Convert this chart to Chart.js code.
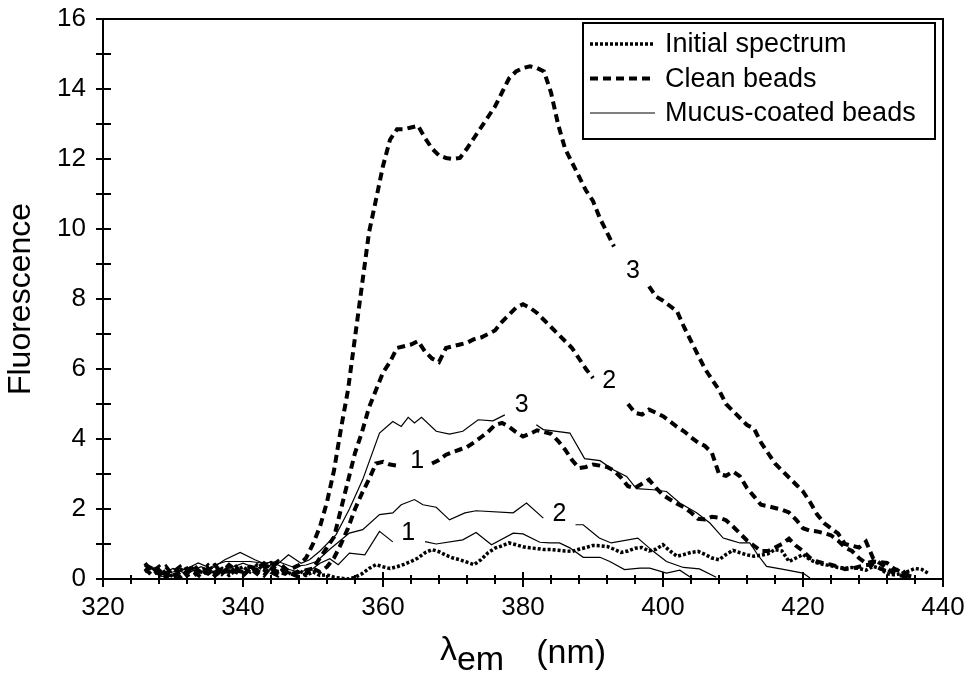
<!DOCTYPE html>
<html><head><meta charset="utf-8">
<script src="https://cdn.jsdelivr.net/npm/chart.js@4"></script>
<style>html,body{margin:0;padding:0;background:#fff}canvas{display:block}</style>
</head><body>
<canvas id="c" width="971" height="674"></canvas>
<script>
const FONT = "'Liberation Sans', Arial, Helvetica, sans-serif";

// shared wavelength grid (nm) for initial spectrum and clean-bead spectra
const wavelengths = [326,327,328,329,330,331,332,333,334,335,336,337,338,339,340,341,342,343,344,345,346,347,348,349,350,351,352,353,354,355,356,357,358,359,360,361,362,363,364,365,366,367,368,369,370,371,372,373,374,375,376,377,378,379,380,381,382,383,384,385,386,387,388,389,390,391,392,393,394,395,396,397,398,399,400,401,402,403,404,405,406,407,408,409,410,411,412,413,414,415,416,417,418,419,420,421,422,423,424,425,426,427,428,429,430,431,432,433,434,435,436,437,438];

const initialSpectrum = [0.2,0.35,0.1,0.25,0.05,0.3,0.15,0.35,0.2,0.4,0.15,0.3,0.1,0.25,0.35,0.2,0.4,0.25,0.45,0.2,0.3,0.1,0.25,0.1,0.2,0.1,0.12,0.05,0.02,0,0.05,0.15,0.3,0.41,0.35,0.3,0.35,0.42,0.5,0.6,0.75,0.84,0.78,0.68,0.6,0.55,0.48,0.41,0.55,0.75,0.88,0.95,1.03,0.98,0.92,0.89,0.87,0.84,0.84,0.82,0.8,0.79,0.85,0.9,0.96,0.95,0.93,0.85,0.76,0.8,0.88,0.9,0.8,0.85,0.98,0.8,0.65,0.7,0.76,0.79,0.7,0.6,0.55,0.7,0.82,0.75,0.69,0.65,0.68,0.72,0.84,0.8,0.5,0.6,0.7,0.55,0.46,0.41,0.38,0.33,0.31,0.33,0.3,0.25,0.36,0.3,0.15,0.12,0.15,0.22,0.3,0.27,0.15];

const clean3 = [0.45,0.2,0.35,0.1,0.05,0.2,0.3,0.1,0.25,0.15,0.3,0.2,0.4,0.25,0.2,0.35,0.3,0.45,0.3,0.2,0.15,0.3,0.4,0.6,1.0,1.5,2.2,3.1,4.3,5.4,6.9,8.4,9.9,10.84,11.8,12.55,12.85,12.85,12.9,12.95,12.6,12.3,12.1,12.03,12.0,12.03,12.3,12.6,12.9,13.2,13.5,13.9,14.3,14.5,14.6,14.65,14.6,14.5,13.9,13.0,12.3,11.9,11.5,11.1,10.8,10.3,9.9,9.5,null,null,null,null,8.36,8.07,7.95,7.8,7.65,7.2,6.8,6.4,6.0,5.7,5.4,5.0,4.8,4.6,4.4,4.3,3.9,3.6,3.3,3.1,2.9,2.7,2.5,2.2,1.85,1.6,1.45,1.3,1.0,0.95,0.9,1.07,0.6,0.45,0.3,0.15,0.1,0.05,null,null,null];

const clean2 = [0.3,0.1,0.25,0.05,0.2,0.35,0.1,0.2,0.05,0.3,0.4,0.15,0.35,0.2,0.1,0.3,0.25,0.1,0.35,0.5,0.3,0.15,0.2,0.25,0.3,0.6,0.9,1.2,2.0,2.8,3.6,4.2,4.9,5.4,5.9,6.2,6.6,6.65,6.7,6.8,6.5,6.3,6.2,6.6,6.65,6.7,6.75,6.85,6.9,7.0,7.1,7.35,7.55,7.75,7.85,7.75,7.6,7.4,7.2,7.0,6.8,6.6,6.3,6.0,5.74,null,null,null,null,5.0,4.75,4.7,4.84,4.75,4.65,4.5,4.35,4.22,4.05,3.9,3.8,3.6,3.0,2.95,3.07,2.93,2.6,2.36,2.12,2.08,2.03,1.98,1.9,1.7,1.45,1.38,1.36,1.31,1.25,1.1,0.9,0.8,0.6,0.45,0.5,0.48,0.46,0.3,0.2,0.1,0.05,null,null];

const clean1 = [0.4,0.3,0.15,0.35,0.1,0.05,0.2,0.4,0.15,0.3,0.1,0.25,0.2,0.35,0.1,0.3,0.15,0.4,0.2,0.1,0.3,0.15,0.05,0.15,0.3,0.2,0.35,0.6,1.0,1.45,2.0,2.45,2.85,3.3,3.35,3.27,3.24,null,null,null,null,3.3,3.4,3.55,3.63,3.7,3.77,3.9,4.05,4.2,4.4,4.46,4.35,4.2,4.07,4.15,4.25,4.2,4.15,3.95,3.7,3.4,3.17,3.2,3.27,3.24,3.2,3.1,2.9,2.65,2.6,2.72,2.84,2.6,2.4,2.27,2.15,2.05,1.9,1.72,1.7,1.78,1.75,1.68,1.5,1.3,1.1,0.95,0.8,0.8,0.9,1.0,1.15,0.95,0.8,0.6,0.5,0.45,0.41,0.35,0.28,0.3,0.35,0.4,0.41,0.3,0.22,0.25,0.27,0.1,0.05,null,null];

// mucus-coated beads, own wavelength samples
const mucus3X = [328,330,332,333.6,335.5,337.4,339.6,341.7,343.5,344.5,346.5,348.3,349.5,351,353.3,355.2,357.1,359.5,361.4,362.6,363.6,364.5,365.5,367.6,369.5,371.4,373.6,375.7,377.4,379.6,381.9,382.9,386.7,388.8,391,392.9,394.8,396.2,398.6,400.5,402.4,404.8,406.7,408.6,409.5,411,412.4,413.5,414.8,417,420,421];
const mucus3Y = [0.1,0.2,0.3,0.46,0.3,0.55,0.76,0.55,0.4,0.35,0.69,0.45,0.55,0.8,1.27,2.0,2.84,4.17,4.5,4.36,4.62,4.46,4.62,4.22,4.14,4.22,4.55,4.52,4.69,null,4.41,4.27,4.17,3.44,3.38,3.12,2.93,2.58,2.55,2.5,2.17,1.89,1.6,1.17,1.12,1.03,1.03,0.7,0.36,0.28,0.17,0.03];

const mucus2X = [328,330,332,334,336,337.5,339,341,343,345,347,349,350.5,352.4,355.2,357.1,359.5,361.4,362.6,364.5,365.7,367.6,369.5,371.7,373.3,378.6,380.5,382.9,385.2,387.5,388.6,390.9,392.6,396.4,398.6,400.5,402.9,405.2,407.6];
const mucus2Y = [0.05,0.15,0.3,0.2,0.4,0.5,0.5,0.5,0.45,0.5,0.35,0.4,0.5,0.85,1.31,1.41,1.84,1.89,2.12,2.27,2.12,2.05,1.69,1.89,1.95,1.89,2.17,1.74,null,1.55,1.55,1.17,1.03,1.17,0.79,0.5,0.33,0.29,0.05];

const mucus1X = [328,330,332,334,336,338,340,342,344,346,348,350,351,352.4,353.6,355.2,357.4,359.5,361.4,363.6,366,367.6,371.4,373.3,375.5,378.6,380,382.4,383.8,385.2,386.7,388.6,391,392.4,394.5,396.7,398.1,400.5,402.4,404.3];
const mucus1Y = [0.1,0.3,0.15,0.35,0.2,0.3,0.45,0.3,0.5,0.3,0.2,0.3,0.45,0.58,0.41,0.74,0.69,1.36,1.06,null,1.07,1.0,1.12,1.33,0.98,1.31,1.29,1.05,1.03,1.03,0.89,0.62,0.62,0.5,0.27,0.31,0.31,0.17,0.25,0.0];

// curve number labels
const curveLabelText = ['3','2','1','3','2','1'];
const curveLabelX = [395.7,392.3,364.9,379.8,385.2,363.6];
const curveLabelY = [8.8,5.65,3.36,4.98,1.84,1.31];

// axes
const xTickValues = [320,340,360,380,400,420,440];
const xTickLabels = ['320','340','360','380','400','420','440'];
const yTickValues = [0,2,4,6,8,10,12,14,16];
const yTickLabels = ['0','2','4','6','8','10','12','14','16'];
const xMinorStep = 4, yMinorStep = 1;

const legendLabels = ['Initial spectrum','Clean beads','Mucus-coated beads'];

const DOT = [3,2], DASH = [8,5];
const styles = {
  initial:{borderDash:DOT, borderWidth:3.5},
  clean:{borderDash:DASH, borderWidth:4},
  mucus:{borderDash:[], borderWidth:1.2}
};

function pts(xs, ys){ return xs.map((x,i)=>({x:x, y:ys[i]})); }
function ds(label, data, st){
  return Object.assign({label, data, borderColor:'#000', backgroundColor:'#000', pointRadius:0, showLine:true, spanGaps:false, fill:false, tension:0, borderCapStyle:'butt', borderJoinStyle:'miter'}, st);
}

const framePlugin = {
  id:'framePlugin',
  afterDraw(chart){
    const {ctx, chartArea:a, scales:{x, y}} = chart;
    ctx.save();
    ctx.strokeStyle = '#000';
    ctx.lineWidth = 2;
    ctx.setLineDash([]);
    ctx.strokeRect(a.left, a.top, a.right - a.left, a.bottom - a.top);
    for (let v = x.min; v <= x.max + 1e-9; v += xMinorStep) {
      const px = Math.round(x.getPixelForValue(v));
      const major = xTickValues.includes(v);
      ctx.beginPath();
      ctx.moveTo(px, a.bottom - (major ? 7 : 4));
      ctx.lineTo(px, a.bottom + (major ? 8 : 5));
      ctx.stroke();
    }
    for (let v = y.min; v <= y.max + 1e-9; v += yMinorStep) {
      const py = Math.round(y.getPixelForValue(v));
      ctx.beginPath();
      ctx.moveTo(a.left - 7, py);
      ctx.lineTo(a.left + 8, py);
      ctx.stroke();
    }
    ctx.fillStyle = '#000';
    ctx.font = '25px ' + FONT;
    ctx.textAlign = 'center';
    ctx.textBaseline = 'middle';
    curveLabelText.forEach((t,i)=>{
      ctx.fillText(t, x.getPixelForValue(curveLabelX[i]), y.getPixelForValue(curveLabelY[i]));
    });
    // legend
    const bx = a.right - 360, by = a.top + 4, bw = 352, bh = 116;
    ctx.lineWidth = 2;
    ctx.strokeRect(bx, by, bw, bh);
    const lstyles = [styles.initial, styles.clean, styles.mucus];
    ctx.textAlign = 'left';
    ctx.font = '27px ' + FONT;
    legendLabels.forEach((t,i)=>{
      const cy = by + 21 + i * 34.5;
      ctx.save();
      ctx.lineWidth = lstyles[i].borderWidth;
      ctx.setLineDash(lstyles[i].borderDash);
      ctx.beginPath();
      ctx.moveTo(bx + 7, cy);
      ctx.lineTo(bx + 72, cy);
      ctx.stroke();
      ctx.restore();
      ctx.fillText(t, bx + 82, cy + 1);
    });
    // x-axis title: lambda with subscript em
    ctx.textBaseline = 'alphabetic';
    ctx.font = '34px ' + FONT;
    const wL = ctx.measureText('\u03bb').width;
    const wE = ctx.measureText('em').width;
    const wN = ctx.measureText('(nm)').width;
    const gap = 32;
    const total = wL + wE + gap + wN;
    let sx = (a.left + a.right) / 2 - total / 2;
    const base = a.bottom + 81;
    ctx.fillText('\u03bb', sx, base); sx += wL;
    ctx.fillText('em', sx, base + 10); sx += wE + gap;
    ctx.fillText('(nm)', sx, base + 3);
    ctx.restore();
  }
};

new Chart(document.getElementById('c'), {
  type:'scatter',
  data:{datasets:[
    ds('Initial spectrum', pts(wavelengths, initialSpectrum), styles.initial),
    ds('Clean beads 3', pts(wavelengths, clean3), styles.clean),
    ds('Clean beads 2', pts(wavelengths, clean2), styles.clean),
    ds('Clean beads 1', pts(wavelengths, clean1), styles.clean),
    ds('Mucus-coated beads 3', pts(mucus3X, mucus3Y), styles.mucus),
    ds('Mucus-coated beads 2', pts(mucus2X, mucus2Y), styles.mucus),
    ds('Mucus-coated beads 1', pts(mucus1X, mucus1Y), styles.mucus)
  ]},
  options:{
    responsive:false, animation:false, devicePixelRatio:1,
    layout:{padding:{left:0, right:28, top:19, bottom:0}},
    plugins:{legend:{display:false}, tooltip:{enabled:false}},
    scales:{
      x:{type:'linear', min:320, max:440,
        border:{display:false}, grid:{display:false, drawTicks:false},
        afterBuildTicks(s){ s.ticks = xTickValues.map(v=>({value:v})); },
        ticks:{padding:13, color:'#000', font:{family:FONT, size:26}, maxRotation:0,
          callback:(v)=> xTickLabels[xTickValues.indexOf(v)]},
        afterFit(s){ s.height = 95; s.paddingLeft = 0; s.paddingRight = 0; }
      },
      y:{type:'linear', min:0, max:16,
        border:{display:false}, grid:{display:false, drawTicks:false},
        afterBuildTicks(s){ s.ticks = yTickValues.map(v=>({value:v})); },
        ticks:{padding:17, color:'#000', font:{family:FONT, size:26},
          callback:(v)=> yTickLabels[yTickValues.indexOf(v)]},
        title:{display:true, text:'Fluorescence', color:'#000', font:{family:FONT, size:32}, padding:{top:2, bottom:0}},
        afterFit(s){ s.width = 103; s.paddingTop = 0; s.paddingBottom = 0; }
      }
    }
  },
  plugins:[framePlugin]
});
</script>
</body></html>
